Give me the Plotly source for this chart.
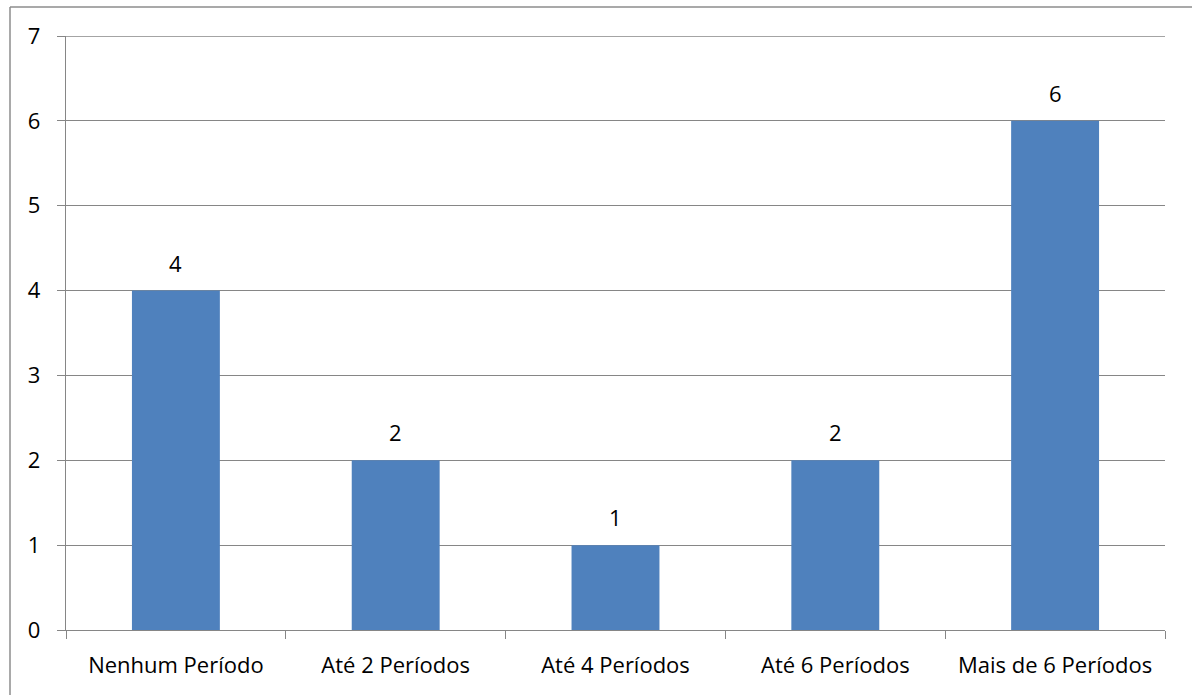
import plotly.graph_objects as go

categorias = ["Nenhum Período", "Até 2 Períodos", "Até 4 Períodos", "Até 6 Períodos", "Mais de 6 Períodos"]
valores = [4, 2, 1, 2, 6]
y_ticks = [0, 1, 2, 3, 4, 5, 6, 7]

W, H = 1192, 695
ML, MR, MT, MB = 66, 27, 36, 65
pw, ph = W - ML - MR, H - MT - MB

grid = "#868686"
lw = 1.4
font = dict(family="Open Sans, Liberation Sans, sans-serif", size=22, color="#000000")

fig = go.Figure(go.Bar(
    x=categorias, y=valores,
    marker=dict(color="#4F81BD", line=dict(width=0)),
    width=0.4,
))

# value labels above each bar
for c, v in zip(categorias, valores):
    fig.add_annotation(x=c, y=v, text=str(v), showarrow=False,
                       yanchor="bottom", yshift=11, font=font)

fig.update_layout(
    width=W, height=H,
    margin=dict(l=ML, r=MR, t=MT, b=MB),
    paper_bgcolor="white", plot_bgcolor="white",
    font=font,
    showlegend=False,
    xaxis=dict(
        type="category",
        tickson="boundaries",
        ticks="outside", ticklen=8, tickcolor=grid, tickwidth=lw,
        showline=True, linecolor=grid, linewidth=lw,
        showgrid=False, tickfont=font,
        ticklabelstandoff=15,
    ),
    yaxis=dict(
        range=[0, 7], tickvals=y_ticks,
        ticks="outside", ticklen=8, tickcolor=grid, tickwidth=lw,
        showline=True, linecolor=grid, linewidth=lw,
        showgrid=True, gridcolor=grid, gridwidth=lw,
        zeroline=False, tickfont=font,
        ticklabelstandoff=12,
    ),
    shapes=[
        # top gridline at the axis maximum
        dict(type="line", xref="paper", yref="y", x0=0, x1=1, y0=7, y1=7,
             line=dict(color=grid, width=lw)),
        # outer chart frame (left and top edges)
        dict(type="line", xref="paper", yref="paper",
             x0=(10 - ML) / pw, x1=(10 - ML) / pw,
             y0=-(MB + 5) / ph, y1=1 + (MT - 7) / ph,
             line=dict(color="#8c8c8c", width=1.5)),
        dict(type="line", xref="paper", yref="paper",
             x0=(10 - ML) / pw, x1=1 + (MR + 5) / pw,
             y0=1 + (MT - 7) / ph, y1=1 + (MT - 7) / ph,
             line=dict(color="#8c8c8c", width=1.5)),
    ],
)

fig.write_html("out.html")
